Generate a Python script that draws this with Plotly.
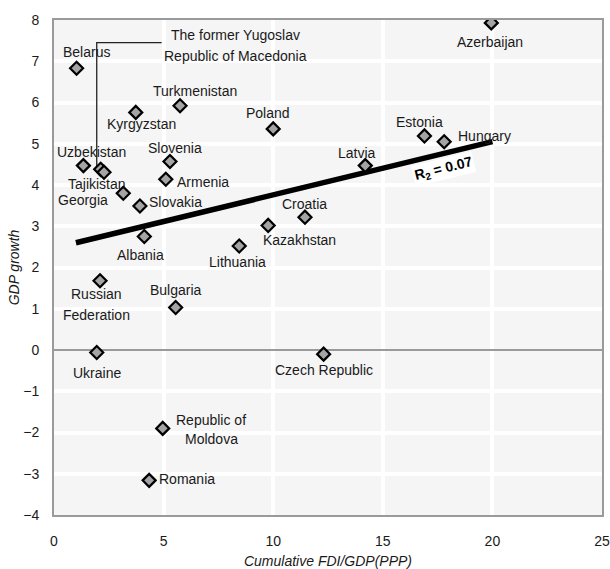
import plotly.graph_objects as go

# Countries with cumulative FDI/GDP (PPP) and GDP growth
countries = ["Belarus", "Turkmenistan", "Kyrgyzstan", "Poland", "Uzbekistan",
             "The former Yugoslav Republic of Macedonia", "Tajikistan", "Slovenia",
             "Armenia", "Georgia", "Slovakia", "Albania", "Lithuania", "Kazakhstan",
             "Croatia", "Russian Federation", "Bulgaria", "Ukraine", "Czech Republic",
             "Azerbaijan", "Estonia", "Hungary", "Latvia", "Republic of Moldova",
             "Romania"]
fdi = [1.03, 5.75, 3.73, 10.0, 1.34,
       2.13, 2.28, 5.29,
       5.1, 3.16, 3.92, 4.12, 8.45, 9.77,
       11.45, 2.1, 5.55, 1.95, 12.3,
       19.95, 16.9, 17.8, 14.2, 4.96,
       4.34]
growth = [6.83, 5.92, 5.76, 5.36, 4.47,
          4.38, 4.31, 4.57,
          4.14, 3.80, 3.49, 2.75, 2.52, 3.02,
          3.22, 1.68, 1.03, -0.06, -0.1,
          7.93, 5.19, 5.05, 4.47, -1.9,
          -3.16]

# Linear trend line
trend_x = [1.0, 20.0]
trend_y = [2.6, 5.05]
r2_text = "R<sub>2</sub> = 0.07"

x_ticks = [0, 5, 10, 15, 20, 25]
y_ticks = [-4, -3, -2, -1, 0, 1, 2, 3, 4, 5, 6, 7, 8]

# label placement: (text lines with y shift px, x shift px, anchor)
label_style = {
    "Belarus": ([("Belarus", 16.6)], 10, "center"),
    "Turkmenistan": ([("Turkmenistan", 15)], 15, "center"),
    "Kyrgyzstan": ([("Kyrgyzstan", -12)], 6, "center"),
    "Poland": ([("Poland", 15.7)], -5.5, "center"),
    "Uzbekistan": ([("Uzbekistan", 14)], 8.4, "center"),
    "Tajikistan": ([("Tajikistan", -11.5)], -6.5, "center"),
    "Slovenia": ([("Slovenia", 13.4)], 4.7, "center"),
    "Armenia": ([("Armenia", -3)], 9, "left"),
    "Georgia": ([("Georgia", -6.5)], -13, "right"),
    "Slovakia": ([("Slovakia", 4.3)], 7, "left"),
    "Albania": ([("Albania", -18.3)], -3.8, "center"),
    "Lithuania": ([("Lithuania", -15.7)], -1.5, "center"),
    "Kazakhstan": ([("Kazakhstan", -14.5)], 31.8, "center"),
    "Croatia": ([("Croatia", 13.5)], 0, "center"),
    "Russian Federation": ([("Russian", -13.6), ("Federation", -34.3)], -4, "center"),
    "Bulgaria": ([("Bulgaria", 17.7)], 0, "center"),
    "Ukraine": ([("Ukraine", -20.6)], 0, "center"),
    "Czech Republic": ([("Czech Republic", -16)], 0, "center"),
    "Azerbaijan": ([("Azerbaijan", -19)], -1.4, "center"),
    "Estonia": ([("Estonia", 14.3)], -5, "center"),
    "Hungary": ([("Hungary", 6)], 11.7, "left"),
    "Latvia": ([("Latvia", 13)], -8.5, "center"),
    "Republic of Moldova": ([("Republic of", 8.4), ("Moldova", -10.7)], 48.5, "center"),
    "Romania": ([("Romania", 1.7)], 8, "left"),
}

FONT = "Liberation Sans, Arial, sans-serif"
TEXT = "#1a1a1a"

fig = go.Figure()

# Leader line for the Macedonia callout
fyrom_i = countries.index("The former Yugoslav Republic of Macedonia")
fig.add_trace(go.Scatter(
    x=[1.95, 1.95, 4.91], y=[growth[fyrom_i] + 0.07, 7.45, 7.45],
    mode="lines", line=dict(color="#222222", width=1.3),
    hoverinfo="skip", showlegend=False))

fig.add_trace(go.Scatter(
    x=trend_x, y=trend_y, mode="lines",
    line=dict(color="black", width=5.5), showlegend=False))

fig.add_trace(go.Scatter(
    x=fdi, y=growth, mode="markers", text=countries,
    marker=dict(symbol="diamond", size=10, color="#a4a4a4",
                line=dict(color="black", width=2.2)),
    showlegend=False))

for name, (lines, dx, anchor) in label_style.items():
    i = countries.index(name)
    for txt, dy in lines:
        fig.add_annotation(x=fdi[i], y=growth[i], text=txt, showarrow=False,
                           xshift=dx, yshift=dy, xanchor=anchor, yanchor="middle",
                           font=dict(family=FONT, size=14, color=TEXT))

# Macedonia callout text
fig.add_annotation(x=8.26, y=7.64, text="The former Yugoslav", showarrow=False,
                   xanchor="center", yanchor="middle",
                   font=dict(family=FONT, size=14, color=TEXT))
fig.add_annotation(x=8.26, y=7.13, text="Republic of Macedonia", showarrow=False,
                   xanchor="center", yanchor="middle",
                   font=dict(family=FONT, size=14, color=TEXT))

fig.add_annotation(x=17.76, y=4.40, text="<b>" + r2_text + "</b>", showarrow=False,
                   textangle=-14, bgcolor="white", borderpad=1,
                   font=dict(family=FONT, size=14, color="black"))

fig.update_layout(
    width=610, height=569,
    margin=dict(l=54, r=8, t=20, b=54),
    paper_bgcolor="white", plot_bgcolor="#f5f5f5",
    font=dict(family=FONT, size=14, color=TEXT),
    xaxis=dict(range=[0, 25], tickvals=x_ticks, showgrid=True, automargin=False,
               gridcolor="white", gridwidth=4, zeroline=False,
               showline=True, mirror=True, linecolor="#9a9a9a", linewidth=2,
               ticks="", ticklabelstandoff=12,
               title=dict(text="<i>Cumulative FDI/GDP(PPP)</i>", standoff=8,
                          font=dict(size=14))),
    yaxis=dict(range=[-4, 8], tickvals=y_ticks, showgrid=True, automargin=False,
               gridcolor="white", gridwidth=4, zeroline=True,
               zerolinecolor="#9a9a9a", zerolinewidth=2,
               showline=True, mirror=True, linecolor="#9a9a9a", linewidth=2,
               ticks="", ticklabelstandoff=10,
               title=dict(text="<i>GDP growth</i>", standoff=0,
                          font=dict(size=14))),
)

fig.write_html("out.html")
